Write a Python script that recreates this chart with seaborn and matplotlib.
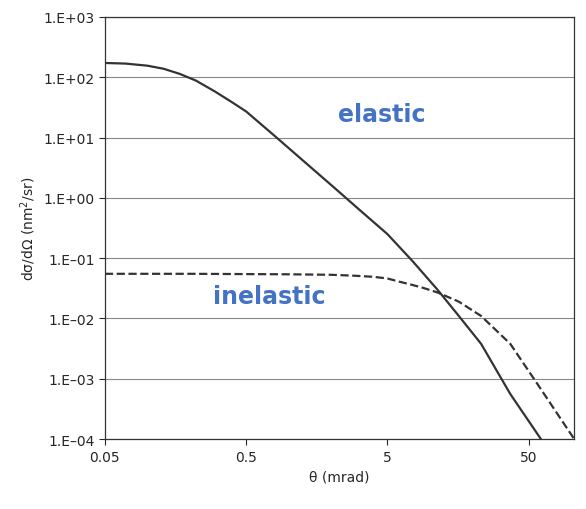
import matplotlib
matplotlib.use("Agg")
import matplotlib.pyplot as plt
import seaborn as sns
import pandas as pd
from matplotlib.ticker import FixedLocator, NullLocator

el_x = [0.05, 0.07, 0.1, 0.13, 0.17, 0.22, 0.3, 0.4, 0.5, 0.8, 1.2, 2.2, 3.2, 5, 7.5, 11.3, 16, 23, 37, 61]
el_y = [172, 168, 155, 138, 113, 88, 58, 38, 27, 10.5, 4.6, 1.34, 0.62, 0.25, 0.09, 0.03, 0.011, 0.0038, 5.6e-4, 1e-4]
in_x = [0.05, 0.2, 1, 2, 3, 4, 5, 6, 7.5, 9, 11.3, 16, 23, 37, 58, 105]
in_y = [0.055, 0.055, 0.054, 0.053, 0.051, 0.049, 0.046, 0.041, 0.036, 0.032, 0.027, 0.019, 0.011, 0.0038, 8e-4, 1e-4]
x_ticks = [0.05, 0.5, 5, 50]
x_labels = ["0.05", "0.5", "5", "50"]
y_ticks = [1e-4, 1e-3, 1e-2, 1e-1, 1, 10, 100, 1000]
y_labels = ["1.E–04", "1.E–03", "1.E–02", "1.E–01", "1.E+00", "1.E+01", "1.E+02", "1.E+03"]

sns.set_style("white")
plt.rcParams['font.family'] = ['DejaVu Sans']
fig = plt.figure(figsize=(5.86, 5.10), dpi=100)
ax = fig.add_axes([0.179, 0.137, 0.801, 0.828])
ax.set_xscale("log"); ax.set_yscale("log")
sns.lineplot(data=pd.DataFrame({"x": el_x, "y": el_y}), x="x", y="y", ax=ax, color="#333333", lw=1.6)
sns.lineplot(data=pd.DataFrame({"x": in_x, "y": in_y}), x="x", y="y", ax=ax, color="#333333", lw=1.6, linestyle="--")
ax.set_xlim(0.05, 105); ax.set_ylim(1e-4, 1e3)
ax.xaxis.set_major_locator(FixedLocator(x_ticks)); ax.set_xticklabels(x_labels)
ax.xaxis.set_minor_locator(NullLocator())
ax.yaxis.set_major_locator(FixedLocator(y_ticks)); ax.set_yticklabels(y_labels)
ax.yaxis.set_minor_locator(NullLocator())
ax.grid(axis="y", color="#888888", lw=0.8)
ax.tick_params(labelsize=10, length=4, direction="out", bottom=True, left=True)
for s in ax.spines.values():
    s.set_color("#333333"); s.set_linewidth(0.9)
ax.set_xlabel("θ (mrad)", fontsize=10)
ax.set_ylabel("dσ/dΩ (nm$^2$/sr)", fontsize=10)
ax.text(0.59, 0.77, "elastic", transform=ax.transAxes, color="#4472C4", fontsize=17, fontweight="bold", ha="center", va="center")
ax.text(0.35, 0.34, "inelastic", transform=ax.transAxes, color="#4472C4", fontsize=17, fontweight="bold", ha="center", va="center")
fig.savefig("out.png", dpi=100)
